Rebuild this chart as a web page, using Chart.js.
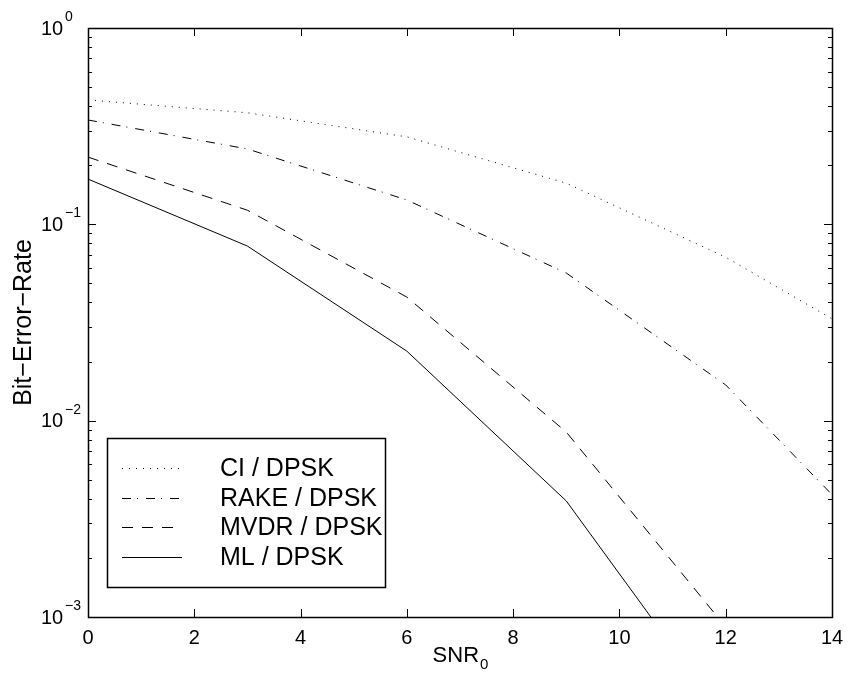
<!DOCTYPE html>
<html>
<head>
<meta charset="utf-8">
<script src="https://cdn.jsdelivr.net/npm/chart.js@4.4.1/dist/chart.umd.min.js"></script>
<style>
  html, body { margin: 0; padding: 0; background: #fff; }
  canvas { display: block; }
</style>
</head>
<body>
<canvas id="c" width="849" height="679"></canvas>
<script>
// ---- data ----
const snr = [0, 3, 6, 9, 12, 14];
const ciDpsk   = [0.43, 0.37, 0.279, 0.162, 0.068, 0.033];
const rakeDpsk = [0.34, 0.242, 0.133, 0.0565, 0.0152, 0.0042];
const mvdrDpsk = [0.22, 0.118, 0.0426, 0.00875, 0.00089, null];
const mlDpsk   = [0.17, 0.0775, 0.0226, 0.0039, 0.0003, null];
const seriesNames = ['CI / DPSK', 'RAKE / DPSK', 'MVDR / DPSK', 'ML / DPSK'];
const xTicks = [0, 2, 4, 6, 8, 10, 12, 14];
const yExponents = [0, -1, -2, -3];

const dashes = [[1, 6], [9, 6, 1, 8], [11, 9], []];
const seriesValues = [ciDpsk, rakeDpsk, mvdrDpsk, mlDpsk];

function pts(vals) {
  const out = [];
  snr.forEach((x, i) => { if (vals[i] !== null) out.push({x: x, y: vals[i]}); });
  return out;
}

const FONT = '"Liberation Sans", Arial, Helvetica, sans-serif';

const decorPlugin = {
  id: 'decor',
  afterDraw(chart) {
    const ctx = chart.ctx;
    const xs = chart.scales.x, ys = chart.scales.y;
    const L = chart.chartArea.left, R = chart.chartArea.right;
    const T = chart.chartArea.top, B = chart.chartArea.bottom;
    ctx.save();
    ctx.strokeStyle = '#000';
    ctx.fillStyle = '#000';
    ctx.lineWidth = 1;
    ctx.setLineDash([]);
    // box
    ctx.lineWidth = 1.5;
    ctx.strokeRect(Math.round(L) + 0.5, Math.round(T) + 0.5, Math.round(R - L), Math.round(B - T));
    ctx.lineWidth = 1;
    // x ticks (inward, top and bottom)
    ctx.beginPath();
    xTicks.forEach(v => {
      const px = Math.round(xs.getPixelForValue(v)) + 0.5;
      ctx.moveTo(px, B); ctx.lineTo(px, B - 8);
      ctx.moveTo(px, T); ctx.lineTo(px, T + 8);
    });
    // y ticks major + minor
    yExponents.forEach(e => {
      for (let m = 1; m <= 9; m++) {
        const v = m * Math.pow(10, e - 1);
        if (v < 1e-3 - 1e-12 || v > 1 + 1e-12) continue;
        const py = Math.round(ys.getPixelForValue(v)) + 0.5;
        const len = (m === 1) ? 8 : 4;
        ctx.moveTo(L, py); ctx.lineTo(L + len, py);
        ctx.moveTo(R, py); ctx.lineTo(R - len, py);
      }
    });
    const pyTop = Math.round(ys.getPixelForValue(1)) + 0.5;
    ctx.moveTo(L, pyTop); ctx.lineTo(L + 8, pyTop);
    ctx.moveTo(R, pyTop); ctx.lineTo(R - 8, pyTop);
    ctx.stroke();

    // x tick labels
    ctx.font = '20px ' + FONT;
    ctx.textAlign = 'center';
    ctx.textBaseline = 'middle';
    xTicks.forEach(v => {
      ctx.fillText(String(v), xs.getPixelForValue(v), B + 21);
    });
    // y tick labels 10^e
    yExponents.forEach(e => {
      const py = ys.getPixelForValue(Math.pow(10, e));
      ctx.font = '20px ' + FONT;
      ctx.textAlign = 'left';
      ctx.textBaseline = 'middle';
      ctx.fillText('10', 41, py + 1);
      ctx.font = '14px ' + FONT;
      ctx.fillText(e === 0 ? '0' : '\u2212' + Math.abs(e), 65, py - 11);
    });
    // x title SNR_0
    ctx.font = '22px ' + FONT;
    ctx.textAlign = 'left';
    ctx.textBaseline = 'middle';
    const w = ctx.measureText('SNR').width;
    ctx.font = '15px ' + FONT;
    const w0 = ctx.measureText('0').width;
    const cx = (L + R) / 2;
    const sx = cx - (w + w0) / 2;
    ctx.font = '22px ' + FONT;
    ctx.fillText('SNR', sx, 656);
    ctx.font = '15px ' + FONT;
    ctx.fillText('0', sx + w + 1, 665);
    // y title
    ctx.save();
    ctx.translate(24, (T + B) / 2);
    ctx.rotate(-Math.PI / 2);
    ctx.font = '25px ' + FONT;
    ctx.textAlign = 'center';
    ctx.textBaseline = 'middle';
    ctx.fillText('Bit\u2212Error\u2212Rate', 0, 0);
    ctx.restore();

    // legend
    const lx = 107, ly = 438, lw = 278, lh = 149;
    ctx.fillStyle = '#fff';
    ctx.fillRect(lx, ly, lw, lh);
    ctx.fillStyle = '#000';
    ctx.lineWidth = 1.5;
    ctx.strokeRect(lx + 0.5, ly + 0.5, lw, lh);
    const rowY = [468, 498, 527, 557];
    chart.data.datasets.forEach((ds, i) => {
      ctx.beginPath();
      ctx.setLineDash(ds.borderDash || []);
      ctx.lineWidth = 1;
      ctx.moveTo(122, rowY[i] + 0.5);
      ctx.lineTo(182, rowY[i] + 0.5);
      ctx.stroke();
      ctx.setLineDash([]);
      ctx.font = '25px ' + FONT;
      ctx.textAlign = 'left';
      ctx.textBaseline = 'middle';
      ctx.fillText(ds.label, 220, rowY[i] + 1);
    });
    ctx.restore();
  }
};

new Chart(document.getElementById('c'), {
  type: 'line',
  data: {
    datasets: seriesValues.map((vals, i) => ({
      label: seriesNames[i],
      data: pts(vals),
      borderColor: '#000',
      backgroundColor: '#000',
      borderWidth: 1,
      borderDash: dashes[i],
      pointRadius: 0,
      tension: 0,
      fill: false
    }))
  },
  options: {
    responsive: false,
    animation: false,
    devicePixelRatio: 1,
    layout: { padding: { left: 88, right: 17, top: 28, bottom: 62 } },
    plugins: { legend: { display: false }, tooltip: { enabled: false } },
    scales: {
      x: { type: 'linear', min: 0, max: 14, display: false },
      y: { type: 'logarithmic', min: 1e-3, max: 1, display: false }
    }
  },
  plugins: [decorPlugin]
});
</script>
</body>
</html>
